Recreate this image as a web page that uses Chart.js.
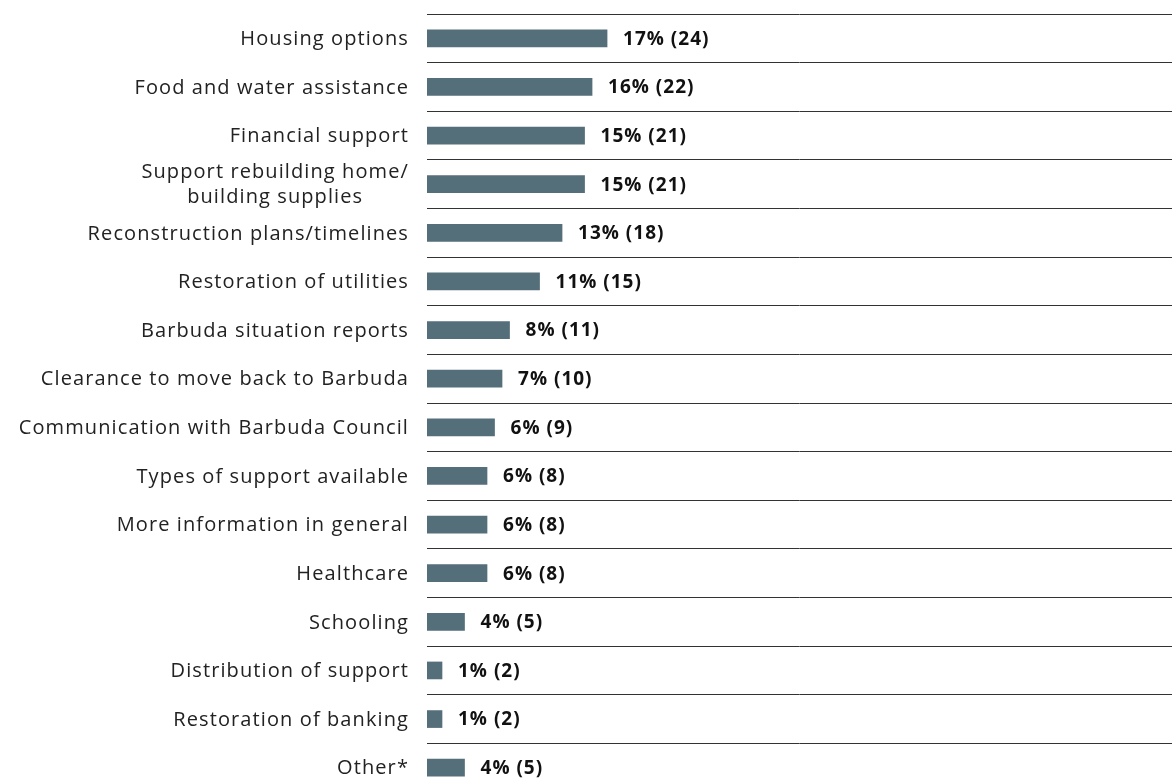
<!DOCTYPE html>
<html>
<head>
<meta charset="utf-8">
<script src="https://cdn.jsdelivr.net/npm/chart.js@4"></script>
<style>
  html, body { margin: 0; padding: 0; background: #fff; overflow: hidden; }
  #wrap { width: 1172px; height: 792px; }
</style>
</head>
<body>
<div id="wrap"><canvas id="needsChart"></canvas></div>
<script>
const categories = [
    'Housing options',
    'Food and water assistance',
    'Financial support',
    ['Support rebuilding home/', 'building supplies'],
    'Reconstruction plans/timelines',
    'Restoration of utilities',
    'Barbuda situation reports',
    'Clearance to move back to Barbuda',
    'Communication with Barbuda Council',
    'Types of support available',
    'More information in general',
    'Healthcare',
    'Schooling',
    'Distribution of support',
    'Restoration of banking',
    'Other*'
];
const counts = [24, 22, 21, 21, 18, 15, 11, 10, 9, 8, 8, 8, 5, 2, 2, 5];
const percents = [17, 16, 15, 15, 13, 11, 8, 7, 6, 6, 6, 6, 4, 1, 1, 4];

const FONT = '"Open Sans", "Noto Sans", sans-serif';

// left-hand category labels, multi-line ones centred on their widest line
const labelPlugin = {
    id: 'catLabels',
    afterDraw(chart) {
        const ctx = chart.ctx;
        const y = chart.scales.y;
        const right = y.right - 18;
        ctx.save();
        ctx.font = '20px ' + FONT;
        ctx.letterSpacing = '1.1px';
        ctx.fillStyle = '#222';
        ctx.textBaseline = 'middle';
        categories.forEach((lab, i) => {
            const cy = y.getPixelForValue(i) + 1;
            const lines = Array.isArray(lab) ? lab : [lab];
            const widest = Math.max(...lines.map(l => ctx.measureText(l).width));
            const lh = 25;
            lines.forEach((l, j) => {
                const ly = cy + (j - (lines.length - 1) / 2) * lh;
                if (lines.length > 1) {
                    ctx.textAlign = 'center';
                    ctx.fillText(l, right - widest / 2, ly);
                } else {
                    ctx.textAlign = 'right';
                    ctx.fillText(l, right, ly);
                }
            });
        });
        ctx.restore();
    }
};

// bold value labels after each bar
const valuePlugin = {
    id: 'valueLabels',
    afterDatasetsDraw(chart) {
        const ctx = chart.ctx;
        const meta = chart.getDatasetMeta(0);
        ctx.save();
        ctx.font = 'bold 19px ' + FONT;
        ctx.letterSpacing = '1px';
        ctx.fillStyle = '#111';
        ctx.textAlign = 'left';
        ctx.textBaseline = 'middle';
        meta.data.forEach((bar, i) => {
            ctx.fillText(percents[i] + '% (' + counts[i] + ')', bar.x + 16, bar.y + 1);
        });
        ctx.restore();
    }
};

const ctx = document.getElementById('needsChart').getContext('2d');
const chart = new Chart(ctx, {
    type: 'bar',
    data: {
        labels: categories,
        datasets: [{
            data: counts,
            backgroundColor: '#546e7a',
            barThickness: 17
        }]
    },
    options: {
        indexAxis: 'y',
        responsive: true,
        maintainAspectRatio: false,
        animation: false,
        layout: { padding: { top: 14, right: 0, bottom: 0, left: 0 } },
        plugins: {
            legend: { display: false },
            tooltip: { enabled: false }
        },
        scales: {
            x: {
                display: false,
                min: 0,
                max: 99.3
            },
            y: {
                afterFit: s => { s.width = 427; },
                border: { display: false },
                grid: {
                    offset: true,
                    color: '#333',
                    lineWidth: 1,
                    drawTicks: false
                },
                ticks: { display: false }
            }
        }
    },
    plugins: [labelPlugin, valuePlugin]
});
</script>
</body>
</html>
